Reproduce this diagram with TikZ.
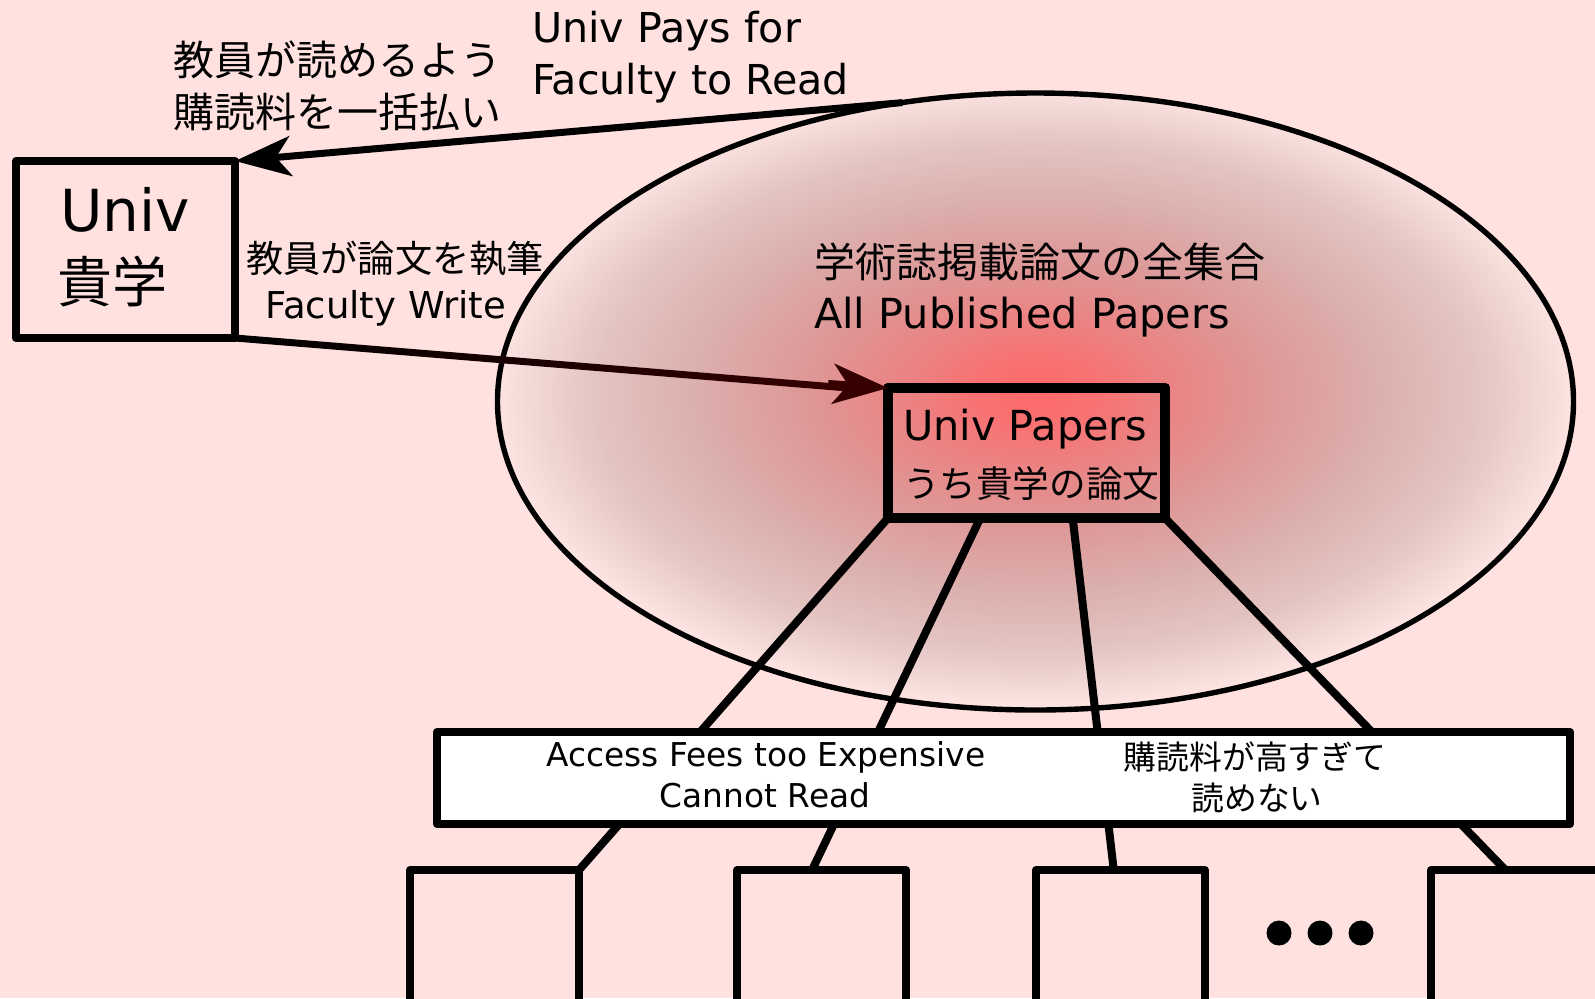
\documentclass[tikz,border=0pt]{standalone}
\usepackage{fontspec}
\setmainfont{DejaVu Sans}
\newfontfamily\jp{Noto Sans CJK JP}
\usetikzlibrary{arrows.meta,calc,shapes.geometric}
\definecolor{bg}{RGB}{255,226,223}
\definecolor{arrowred}{RGB}{55,0,0}
\pgfdeclareradialshading{papershade}{\pgfpoint{0bp}{0.8bp}}{%
 rgb(0bp)=(1,0.41,0.41);
 rgb(3bp)=(0.97,0.45,0.45);
 rgb(7bp)=(0.91,0.53,0.53);
 rgb(11bp)=(0.87,0.60,0.60);
 rgb(16bp)=(0.86,0.69,0.68);
 rgb(20.5bp)=(0.89,0.77,0.76);
 rgb(23.5bp)=(0.95,0.85,0.84);
 rgb(25bp)=(0.99,0.89,0.88);
 rgb(50bp)=(0.99,0.89,0.88)}
\tikzset{
 box/.style={draw=black, line join=round, inner sep=0pt, outer sep=0pt},
 txt/.style={inner sep=0pt, outer sep=0pt},
 conn/.style={draw=black, line width=4pt, line cap=round},
 bigtip/.style={-{Stealth[length=28pt,width=20pt,inset=7.5pt]}},
}
\newcommand{\fs}[1]{\fontsize{#1}{#1}\selectfont}
\begin{document}
\begin{tikzpicture}[x=0.5pt,y=-0.5pt]
\useasboundingbox (0,0) rectangle (1595,998);
\clip (0,0) rectangle (1595,998);
\fill[bg] (0,0) rectangle (1595,998);

% big ellipse
\node[ellipse, draw=black, line width=2.7pt, shading=papershade, outer sep=0pt,
  minimum width=538pt, minimum height=308.5pt, inner sep=0pt] (ell) at (1035.5,401.5) {};

% boxes
\node[box, line width=4pt, fill=bg, minimum width=109.5pt, minimum height=88.5pt] (univ) at (125.5,249.5) {};
\node[box, line width=5pt, minimum width=138.5pt, minimum height=65pt] (papers) at (1026.5,453) {};

\node[box, line width=4pt, fill=bg, minimum width=84.5pt, minimum height=70pt] (b1) at (494.5,940) {};
\node[box, line width=4pt, fill=bg, minimum width=84.5pt, minimum height=70pt] (b2) at (821.5,940) {};
\node[box, line width=4pt, fill=bg, minimum width=84.5pt, minimum height=70pt] (b3) at (1120.5,940) {};
\node[box, line width=4pt, fill=bg, minimum width=84.5pt, minimum height=70pt] (b4) at (1515.5,940) {};

% connectors from papers to bottom boxes
\draw[conn] (papers.south west) -- (b1.north east);
\draw[conn] ($(papers.south west)!1/3!(papers.south east)$) -- ($(b2.north west)!0.444!(b2.north east)$);
\draw[conn] ($(papers.south west)!2/3!(papers.south east)$) -- ($(b3.north west)!0.46!(b3.north east)$);
\draw[conn] (papers.south east) -- ($(b4.north west)!0.44!(b4.north east)$);

% wide box over the connectors
\node[box, line width=4pt, fill=white, minimum width=566.5pt, minimum height=46pt] (wide) at (1003.5,778) {};

% redraw papers border on top of connectors
\draw[line width=5pt, line join=round] (papers.south west) rectangle (papers.north east);

% arrows
\draw[line width=3.5pt, bigtip] (ell.114) -- (univ.north east);
\shade[left color=black, right color=arrowred]
  ($(univ.south east)+(0,-3.5)$) -- ($(papers.north west)+(-40,-3.5)$) --
  ($(papers.north west)+(-40,3.5)$) -- ($(univ.south east)+(0,3.5)$) -- cycle;
\draw[line width=3.5pt, draw=arrowred, -{Stealth[length=27.5pt,width=20pt,inset=7.5pt,color=arrowred]}]
  ($(papers.north west)!30pt!(univ.south east)$) -- (papers.north west);

% dots
\node[circle, fill=black, inner sep=0pt, minimum size=12.5pt] (d1) at (1279,933) {};
\node[circle, fill=black, inner sep=0pt, minimum size=12.5pt] (d2) at (1320,933) {};
\node[circle, fill=black, inner sep=0pt, minimum size=12.5pt] (d3) at (1361,933) {};

% texts
\node[txt, anchor=base west, font=\fs{20.6}] (paysA) at (532,42) {Univ Pays for};
\node[txt, anchor=base west, font=\fs{20.6}] (paysB) at (532,94.3) {Faculty to Read};
\node[txt, anchor=west, font=\jp\fs{20.5}] (jpA) at (173,59.5) {教員が読めるよう};
\node[txt, anchor=west, font=\jp\fs{20.5}] (jpB) at (173,111.5) {購読料を一括払い};

\node[txt, anchor=base west, font=\fs{29}] (univT) at (60,231.7) {Univ};
\node[txt, anchor=west, font=\jp\fs{27.5}] (kigaku) at (57,282) {貴学};

\node[txt, font=\jp\fs{18.6}] (writeJ) at (395,259) {教員が論文を執筆};
\node[txt, anchor=base, font=\fs{18.5}] (writeE) at (385.5,318.5) {Faculty Write};

\node[txt, anchor=west, font=\jp\fs{20.5}] (allJ) at (814,262) {学術誌掲載論文の全集合};
\node[txt, anchor=base west, font=\fs{20.7}] (allE) at (814,328.3) {All Published Papers};

\node[txt, anchor=base west, font=\fs{20.7}] (papE) at (903,440.7) {Univ Papers};
\node[txt, anchor=west, font=\jp\fs{18.3}] (papJ) at (903,483.5) {うち貴学の論文};

\node[txt, anchor=base, font=\fs{16.4}] (feeE1) at (766,766.7) {Access Fees too Expensive};
\node[txt, anchor=base, font=\fs{16.4}] (feeE2) at (765,807) {Cannot Read};
\node[txt, font=\jp\fs{16.4}] (feeJ1) at (1255,756.7) {購読料が高すぎて};
\node[txt, font=\jp\fs{16.4}] (feeJ2) at (1257,798.5) {読めない};
\end{tikzpicture}
\end{document}
